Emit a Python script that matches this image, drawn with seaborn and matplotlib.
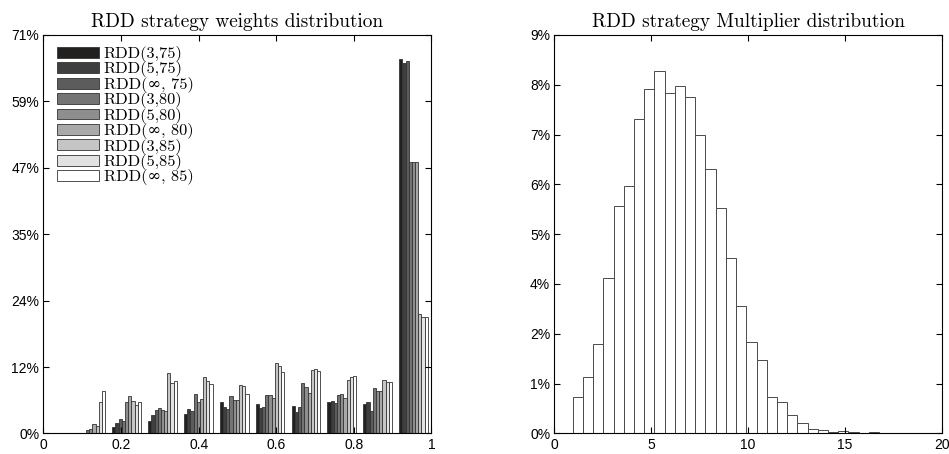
import numpy as np
import pandas as pd
import matplotlib
matplotlib.use('Agg')
import matplotlib.pyplot as plt
import matplotlib.ticker as mtick
import seaborn as sns

# --- data ---
series_labels = ['RDD(3,75)', 'RDD(5,75)', 'RDD(\u221e, 75)',
                 'RDD(3,80)', 'RDD(5,80)', 'RDD(\u221e, 80)',
                 'RDD(3,85)', 'RDD(5,85)', 'RDD(\u221e, 85)']

# weight range covered by the 10 histogram bins
w_min, w_max = 0.0757, 1.0

# percentage of weights in each bin, one list per strategy
rdd_3_75 = [0.05, 1.16, 2.23, 3.47, 5.61, 5.25, 4.90, 5.61, 5.31, 66.7]
rdd_5_75 = [0.05, 1.93, 3.29, 4.36, 4.72, 4.48, 3.89, 5.73, 5.61, 66.0]
rdd_inf_75 = [0.10, 2.58, 4.18, 4.07, 4.30, 4.66, 4.72, 5.37, 3.95, 66.3]
rdd_3_80 = [0.68, 2.23, 4.48, 7.03, 6.68, 6.85, 8.93, 6.80, 8.04, 48.4]
rdd_5_80 = [0.75, 5.55, 4.12, 5.55, 5.96, 6.85, 8.34, 6.97, 7.63, 48.4]
rdd_inf_80 = [1.65, 6.62, 3.95, 6.08, 5.96, 6.26, 7.15, 6.26, 7.63, 48.4]
rdd_3_85 = [1.42, 5.79, 10.71, 10.00, 8.63, 12.61, 11.30, 9.47, 9.47, 21.2]
rdd_5_85 = [5.55, 5.07, 8.99, 9.35, 8.46, 12.02, 11.42, 10.00, 9.11, 20.8]
rdd_inf_85 = [7.55, 5.55, 9.29, 8.87, 7.03, 11.00, 11.19, 10.18, 9.11, 20.8]
weights_ymax = 70.98

# multiplier histogram: 30 bins between mult_min and mult_max, percent per bin
mult_min, mult_max = 0.95, 16.77
mult_pct = [0.873, 1.345, 2.124, 3.682, 5.381, 5.860, 7.435, 8.150, 8.567, 8.048,
            8.206, 7.954, 7.057, 6.254, 5.334, 4.137, 3.014, 2.171, 1.747, 0.857,
            0.739, 0.448, 0.236, 0.101, 0.087, 0.031, 0.064, 0.040, 0.017, 0.040]
mult_ymax = 9.42

grays = ['#231f20', '#3f3f3f', '#5c5c5c', '#747474', '#8e8e8e',
         '#a9a9a9', '#c5c5c5', '#e2e2e2', '#ffffff']

# --- build long table for the grouped bars ---
edges = np.linspace(w_min, w_max, 11)
centers = (edges[:-1] + edges[1:]) / 2
all_series = [rdd_3_75, rdd_5_75, rdd_inf_75, rdd_3_80, rdd_5_80,
              rdd_inf_80, rdd_3_85, rdd_5_85, rdd_inf_85]
rows = []
for lab, vals in zip(series_labels, all_series):
    for c, v in zip(centers, vals):
        rows.append({'weight': c, 'pct': v / 100, 'strategy': lab})
df = pd.DataFrame(rows)

plt.rcParams['font.family'] = ['Liberation Sans', 'DejaVu Sans']
plt.rcParams['axes.linewidth'] = 0.8

fig = plt.figure(figsize=(9.49, 4.54), dpi=100)
ax1 = fig.add_axes([0.0458, 0.0452, 0.4088, 0.878])
ax2 = fig.add_axes([0.5841, 0.0452, 0.4082, 0.878])

# --- left: weights distribution ---
sns.barplot(data=df, x='weight', y='pct', hue='strategy', hue_order=series_labels,
            palette=grays, native_scale=True, width=0.8, errorbar=None,
            edgecolor='#333333', linewidth=0.6, ax=ax1)
ax1.set_xlim(0, 1)
ax1.set_ylim(0, weights_ymax / 100)
ax1.set_xticks(np.linspace(0, 1, 6))
ax1.xaxis.set_major_formatter(mtick.FuncFormatter(lambda v, p: '%g' % round(v, 2)))
ax1.set_yticks(np.linspace(0, weights_ymax / 100, 7))
ax1.set_title('RDD strategy weights distribution', fontfamily='cmr10', fontsize=13.9, pad=6)
handles, labels = ax1.get_legend_handles_labels()
ax1.legend(handles, labels, loc='upper left', bbox_to_anchor=(0.035, 0.972),
           frameon=False, prop={'family': ['cmr10', 'DejaVu Serif'], 'size': 11.8},
           handlelength=2.55, handleheight=0.65, handletextpad=0.3,
           labelspacing=-0.035, borderpad=0, borderaxespad=0)

# --- right: multiplier distribution ---
m_edges = np.linspace(mult_min, mult_max, len(mult_pct) + 1)
mult_df = pd.DataFrame({'mult': (m_edges[:-1] + m_edges[1:]) / 2,
                        'share': np.array(mult_pct) / 100})
sns.histplot(data=mult_df, x='mult', weights='share', bins=len(mult_pct),
             binrange=(mult_min, mult_max), color='white', edgecolor='#4a4a4a',
             linewidth=0.7, alpha=1, ax=ax2)
ax2.set_xlim(0, 20)
ax2.set_ylim(0, mult_ymax / 100)
ax2.set_xticks([0, 5, 10, 15, 20])
ax2.set_yticks(np.linspace(0, mult_ymax / 100, 9))
ax2.set_title('RDD strategy Multiplier distribution', fontfamily='cmr10', fontsize=13.9, pad=6)

pct_fmt = mtick.FuncFormatter(lambda v, p: '%d%%' % round(v * 100))
for ax in (ax1, ax2):
    ax.yaxis.set_major_formatter(pct_fmt)
    ax.set_xlabel('')
    ax.set_ylabel('')
    ax.tick_params(direction='in', top=True, right=True, length=4, width=0.8,
                   labelsize=10, pad=3, colors='black')
    for s in ax.spines.values():
        s.set_color('black')
        s.set_visible(True)

fig.savefig('out.png', dpi=100)
